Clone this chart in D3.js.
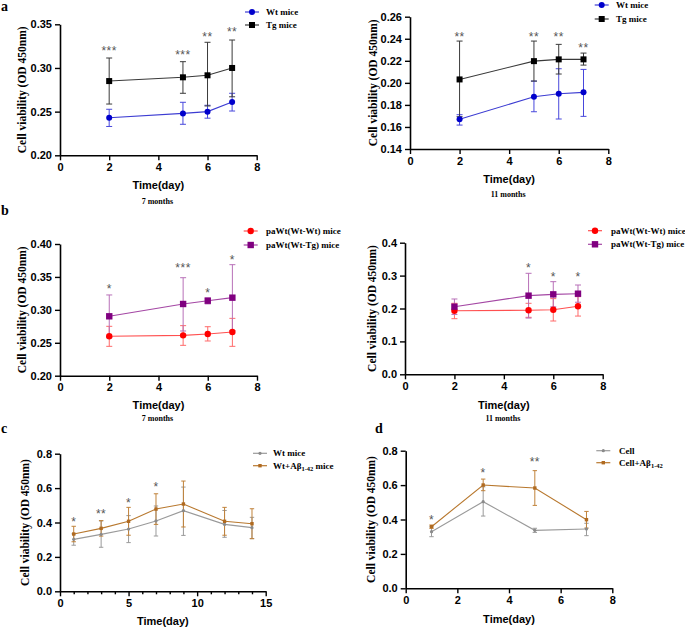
<!DOCTYPE html>
<html><head><meta charset="utf-8">
<script src="https://cdn.jsdelivr.net/npm/d3@7"></script>
<style>body{margin:0;background:#fff;} svg{display:block}</style>
</head><body>
<svg id="chart" width="685" height="629"></svg>
<script>
// ---------------- DATA ----------------
const daysAB = [2, 5, 6, 7];
const daysC = [1, 3, 5, 7, 9, 12, 14];
const daysD = [1, 3, 5, 7];

// Panel a, 7 months
const aL_wtMean = [0.243, 0.248, 0.250, 0.261];
const aL_wtLo   = [0.233, 0.2355, 0.2425, 0.2507];
const aL_wtHi   = [0.2527, 0.2607, 0.2573, 0.271];
const aL_tgMean = [0.285, 0.2893, 0.2916, 0.300];
const aL_tgLo   = [0.2587, 0.271, 0.2565, 0.267];
const aL_tgHi   = [0.3114, 0.3072, 0.3294, 0.332];
const aL_stars  = ["***", "***", "**", "**"];
const aL_starY  = [0.322, 0.3175, 0.338, 0.3435];

// Panel a, 11 months
const aR_wtMean = [0.1669, 0.1874, 0.1901, 0.1914];
const aR_wtLo   = [0.1617, 0.1738, 0.1672, 0.1696];
const aR_wtHi   = [0.1711, 0.2016, 0.2128, 0.2122];
const aR_tgMean = [0.2031, 0.2197, 0.2213, 0.2213];
const aR_tgLo   = [0.1693, 0.2016, 0.208, 0.2161];
const aR_tgHi   = [0.2379, 0.2379, 0.2349, 0.227];
const aR_stars  = ["**", "**", "**", "**"];
const aR_starY  = [0.2442, 0.2442, 0.2442, 0.2342];

// Panel b, 7 months
const bL_wwMean = [0.2598, 0.2613, 0.2633, 0.2664];
const bL_wwLo   = [0.2446, 0.2461, 0.2527, 0.2446];
const bL_wwHi   = [0.275, 0.276, 0.2744, 0.2871];
const bL_wtgMean = [0.2902, 0.3089, 0.3139, 0.3185];
const bL_wtgLo   = [0.2578, 0.2679, 0.309, 0.2684];
const bL_wtgHi   = [0.3226, 0.3488, 0.318, 0.3686];
const bL_stars  = ["*", "***", "*", "*"];
const bL_starY  = [0.3362, 0.367, 0.330, 0.3798];

// Panel b, 11 months
const bR_wwMean = [0.1933, 0.1945, 0.1963, 0.2067];
const bR_wwLo   = [0.169, 0.1732, 0.162, 0.177];
const bR_wwHi   = [0.2158, 0.2158, 0.230, 0.236];
const bR_wtgMean = [0.2055, 0.239, 0.243, 0.245];
const bR_wtgLo   = [0.182, 0.171, 0.205, 0.219];
const bR_wtgHi   = [0.2289, 0.307, 0.2815, 0.2714];
const bR_stars  = ["", "*", "*", "*"];
const bR_starY  = [0.30, 0.332, 0.302, 0.302];

// Panel c
const c_wtMean = [0.302, 0.331, 0.362, 0.409, 0.469, 0.389, 0.370];
const c_wtLo   = [0.268, 0.256, 0.283, 0.3215, 0.325, 0.314, 0.306];
const c_wtHi   = [0.334, 0.409, 0.440, 0.496, 0.606, 0.470, 0.430];
const c_abMean = [0.333, 0.366, 0.407, 0.478, 0.5075, 0.407, 0.393];
const c_abLo   = [0.288, 0.321, 0.326, 0.389, 0.374, 0.326, 0.306];
const c_abHi   = [0.378, 0.411, 0.488, 0.567, 0.641, 0.488, 0.480];
const c_stars  = ["*", "**", "*", "*", "", "", ""];
const c_starY  = [0.42, 0.463, 0.529, 0.62, 0, 0, 0];

// Panel d
const d_cellMean = [0.329, 0.5036, 0.337, 0.345];
const d_cellLo   = [0.300, 0.420, 0.325, 0.306];
const d_cellHi   = [0.358, 0.590, 0.349, 0.378];
const d_abMean   = [0.358, 0.6005, 0.583, 0.399];
const d_abLo     = [0.349, 0.5675, 0.482, 0.350];
const d_abHi     = [0.368, 0.635, 0.684, 0.447];
const d_stars    = ["*", "*", "**", ""];
const d_starY    = [0.4145, 0.684, 0.746, 0];

// tick values
const xTicksAB = [0, 2, 4, 6, 8];
const yTicksAL = [0.20, 0.25, 0.30, 0.35];
const yTicksAR = [0.14, 0.16, 0.18, 0.20, 0.22, 0.24, 0.26];
const yTicksBL = [0.20, 0.25, 0.30, 0.35, 0.40];
const yTicksBR = [0.0, 0.1, 0.2, 0.3, 0.4];
const xTicksC = [0, 5, 10, 15];
const xMinorC = [1, 2, 3, 4, 6, 7, 8, 9, 11, 12, 13, 14];
const yTicksCD = [0.0, 0.2, 0.4, 0.6, 0.8];

// ---------------- DRAWING ----------------
const svg = d3.select("#chart");
const SANS = "'Liberation Sans', Arial, sans-serif";
const SERIF = "'Liberation Serif', 'Times New Roman', serif";

function zip(days, mean, lo, hi) {
  return days.map((d, i) => ({x: d, m: mean[i], lo: lo[i], hi: hi[i]}));
}

function drawPanel(p) {
  const g = svg.append("g");
  const x = d3.scaleLinear().domain(p.xDomain).range([p.x0, p.x1]);
  const y = d3.scaleLinear().domain(p.yDomain).range([p.y0, p.y1]);

  // axes
  const xAxis = d3.axisBottom(x).tickValues(p.xTicks).tickSize(5).tickSizeOuter(0)
    .tickFormat(d3.format("d")).tickPadding(3);
  g.append("g").attr("transform", `translate(0,${p.y0})`).call(xAxis);
  if (p.xMinor) {
    g.append("g").attr("transform", `translate(0,${p.y0})`)
      .call(d3.axisBottom(x).tickValues(p.xMinor).tickSize(3).tickSizeOuter(0).tickFormat(""))
      .select(".domain").remove();
  }
  const yAxis = d3.axisLeft(y).tickValues(p.yTicks).tickSize(5).tickSizeOuter(0)
    .tickFormat(d3.format(p.yFmt)).tickPadding(3);
  g.append("g").attr("transform", `translate(${p.x0},0)`).call(yAxis);
  g.selectAll(".domain").attr("stroke", "#000").attr("stroke-width", 1.6);
  g.selectAll(".tick line").attr("stroke", "#000").attr("stroke-width", 1.4);
  g.selectAll(".tick text").attr("font-family", SANS).attr("font-weight", "bold")
    .attr("font-size", 11).attr("fill", "#000");

  // axis titles
  g.append("text")
    .attr("transform", `translate(${p.yTitleX},${(p.y0 + p.y1) / 2}) rotate(-90)`)
    .attr("text-anchor", "middle").attr("font-family", SERIF).attr("font-weight", "bold")
    .attr("font-size", 11.5).text("Cell viability (OD 450nm)");
  g.append("text").attr("x", (p.x0 + p.x1) / 2).attr("y", p.xTitleY)
    .attr("text-anchor", "middle").attr("font-family", SANS).attr("font-weight", "bold")
    .attr("font-size", 11).text("Time(day)");
  if (p.sub) {
    g.append("text").attr("x", (p.x0 + p.x1) / 2 - 1).attr("y", p.subY)
      .attr("text-anchor", "middle").attr("font-family", SERIF).attr("font-weight", "bold")
      .attr("font-size", 8).text(p.sub);
  }
  if (p.label) {
    g.append("text").attr("x", p.labelX).attr("y", p.labelY)
      .attr("font-family", SERIF).attr("font-weight", "bold").attr("font-size", 14)
      .text(p.label);
  }

  // series
  p.series.forEach(s => {
    const eb = g.append("g").attr("stroke", s.errColor).attr("stroke-width", 1).attr("fill", "none");
    s.data.forEach(d => {
      eb.append("line").attr("x1", x(d.x)).attr("x2", x(d.x)).attr("y1", y(d.lo)).attr("y2", y(d.hi));
      [d.lo, d.hi].forEach(v => eb.append("line")
        .attr("x1", x(d.x) - s.cap).attr("x2", x(d.x) + s.cap).attr("y1", y(v)).attr("y2", y(v)));
    });
  });
  p.series.forEach(s => {
    g.append("path").datum(s.data)
      .attr("d", d3.line().x(d => x(d.x)).y(d => y(d.m)))
      .attr("fill", "none").attr("stroke", s.lineColor).attr("stroke-width", 1.1);
    drawMarkers(g, s.data.map(d => [x(d.x), y(d.m)]), s);
  });

  // stars
  p.stars.forEach((st, i) => {
    if (!st) return;
    g.append("text").attr("x", x(p.starDays[i])).attr("y", y(p.starY[i]) + 6.5)
      .attr("text-anchor", "middle").attr("font-family", SANS).attr("font-size", 12)
      .attr("fill", "#555").attr("letter-spacing", 0.5).text(st);
  });

  // legend
  p.series.forEach((s, i) => {
    const ly = p.legY + i * p.legDy;
    g.append("line").attr("x1", p.legX - 7).attr("x2", p.legX + 7).attr("y1", ly).attr("y2", ly)
      .attr("stroke", s.lineColor).attr("stroke-width", 1.2);
    drawMarkers(g, [[p.legX, ly]], s);
    const t = g.append("text").attr("x", p.legTextX).attr("y", ly + 3)
      .attr("font-family", SERIF).attr("font-weight", "bold").attr("font-size", 9);
    s.legend.forEach(part => {
      const ts = t.append("tspan").text(part.t);
      if (part.sub) ts.attr("font-size", 6.5).attr("dy", 2);
      else if (part.after) ts.attr("dy", -2);
    });
  });
}

function drawMarkers(g, pts, s) {
  pts.forEach(([px, py]) => {
    if (s.shape === "circle") {
      g.append("circle").attr("cx", px).attr("cy", py).attr("r", s.size).attr("fill", s.color);
    } else {
      g.append("rect").attr("x", px - s.size).attr("y", py - s.size)
        .attr("width", s.size * 2).attr("height", s.size * 2).attr("fill", s.color);
    }
  });
}

const BLUE = {shape: "circle", size: 3, color: "#0000cc", lineColor: "#3c3cd2", errColor: "#4848dc", cap: 3};
const BLACK = {shape: "rect", size: 3, color: "#000", lineColor: "#3a3a3a", errColor: "#3a3a3a", cap: 3};
const RED = {shape: "circle", size: 3.2, color: "#ff0000", lineColor: "#ff5050", errColor: "#ff6a6a", cap: 3};
const PURPLE = {shape: "rect", size: 3.2, color: "#800080", lineColor: "#a447a4", errColor: "#b870b8", cap: 3};
const GREY = {shape: "circle", size: 1.6, color: "#8a8a8a", lineColor: "#9a9a9a", errColor: "#9a9a9a", cap: 2.2};
const BROWN = {shape: "rect", size: 1.7, color: "#b06a20", lineColor: "#b8782e", errColor: "#c0823a", cap: 2.2};

const legWt = [{t: "Wt mice"}];
const legTg = [{t: "Tg mice"}];
const legWW = [{t: "paWt(Wt-Wt) mice"}];
const legWTg = [{t: "paWt(Wt-Tg) mice"}];

// Panel a left
drawPanel({
  xDomain: [0, 8], yDomain: [0.20, 0.35], x0: 60, x1: 256.7, y0: 155.3, y1: 24.3,
  xTicks: xTicksAB, yTicks: yTicksAL, yFmt: ".2f",
  yTitleX: 26, xTitleY: 189, sub: "7 months", subY: 204, label: "a", labelX: 1, labelY: 11,
  series: [
    Object.assign({data: zip(daysAB, aL_wtMean, aL_wtLo, aL_wtHi), legend: legWt}, BLUE),
    Object.assign({data: zip(daysAB, aL_tgMean, aL_tgLo, aL_tgHi), legend: legTg}, BLACK)
  ],
  stars: aL_stars, starY: aL_starY, starDays: daysAB,
  legX: 252, legY: 12, legDy: 13, legTextX: 266
});
// Panel a right
drawPanel({
  xDomain: [0, 8], yDomain: [0.14, 0.26], x0: 410, x1: 608.3, y0: 149, y1: 16.7,
  xTicks: xTicksAB, yTicks: yTicksAR, yFmt: ".2f",
  yTitleX: 377, xTitleY: 183, sub: "11 months", subY: 197,
  series: [
    Object.assign({data: zip(daysAB, aR_wtMean, aR_wtLo, aR_wtHi), legend: legWt}, BLUE),
    Object.assign({data: zip(daysAB, aR_tgMean, aR_tgLo, aR_tgHi), legend: legTg}, BLACK)
  ],
  stars: aR_stars, starY: aR_starY, starDays: daysAB,
  legX: 601.7, legY: 5, legDy: 14, legTextX: 616
});
// Panel b left
drawPanel({
  xDomain: [0, 8], yDomain: [0.20, 0.40], x0: 60, x1: 257, y0: 375.7, y1: 244,
  xTicks: xTicksAB, yTicks: yTicksBL, yFmt: ".2f",
  yTitleX: 26, xTitleY: 409, sub: "7 months", subY: 421, label: "b", labelX: 1, labelY: 215,
  series: [
    Object.assign({data: zip(daysAB, bL_wwMean, bL_wwLo, bL_wwHi), legend: legWW}, RED),
    Object.assign({data: zip(daysAB, bL_wtgMean, bL_wtgLo, bL_wtgHi), legend: legWTg}, PURPLE)
  ],
  stars: bL_stars, starY: bL_starY, starDays: daysAB,
  legX: 250.7, legY: 231, legDy: 14, legTextX: 266
});
// Panel b right
drawPanel({
  xDomain: [0, 8], yDomain: [0.0, 0.4], x0: 405, x1: 602.7, y0: 374.3, y1: 242.7,
  xTicks: xTicksAB, yTicks: yTicksBR, yFmt: ".1f",
  yTitleX: 376, xTitleY: 409, sub: "11 months", subY: 421,
  series: [
    Object.assign({data: zip(daysAB, bR_wwMean, bR_wwLo, bR_wwHi), legend: legWW}, RED),
    Object.assign({data: zip(daysAB, bR_wtgMean, bR_wtgLo, bR_wtgHi), legend: legWTg}, PURPLE)
  ],
  stars: bR_stars, starY: bR_starY, starDays: daysAB,
  legX: 595, legY: 230.7, legDy: 13.6, legTextX: 611
});
// Panel c
drawPanel({
  xDomain: [0, 15], yDomain: [0.0, 0.8], x0: 60, x1: 265.7, y0: 591.3, y1: 453.7,
  xTicks: xTicksC, xMinor: xMinorC, yTicks: yTicksCD, yFmt: ".1f",
  yTitleX: 29, xTitleY: 625, label: "c", labelX: 1, labelY: 433,
  series: [
    Object.assign({data: zip(daysC, c_wtMean, c_wtLo, c_wtHi), legend: legWt}, GREY),
    Object.assign({data: zip(daysC, c_abMean, c_abLo, c_abHi),
      legend: [{t: "Wt+Aβ"}, {t: "1-42", sub: true}, {t: " mice", after: true}]}, BROWN)
  ],
  stars: c_stars, starY: c_starY, starDays: daysC,
  legX: 260, legY: 453.3, legDy: 12.4, legTextX: 273
});
// Panel d
drawPanel({
  xDomain: [0, 8], yDomain: [0.0, 0.8], x0: 405.7, x1: 612.3, y0: 588.3, y1: 450.7,
  xTicks: xTicksAB, yTicks: yTicksCD, yFmt: ".1f",
  yTitleX: 375, xTitleY: 623, label: "d", labelX: 375, labelY: 433,
  series: [
    Object.assign({data: zip(daysD, d_cellMean, d_cellLo, d_cellHi), legend: [{t: "Cell"}]}, GREY),
    Object.assign({data: zip(daysD, d_abMean, d_abLo, d_abHi),
      legend: [{t: "Cell+Aβ"}, {t: "1-42", sub: true}]}, BROWN)
  ],
  stars: d_stars, starY: d_starY, starDays: daysD,
  legX: 603.3, legY: 450.7, legDy: 12, legTextX: 619
});
</script>
</body></html>
